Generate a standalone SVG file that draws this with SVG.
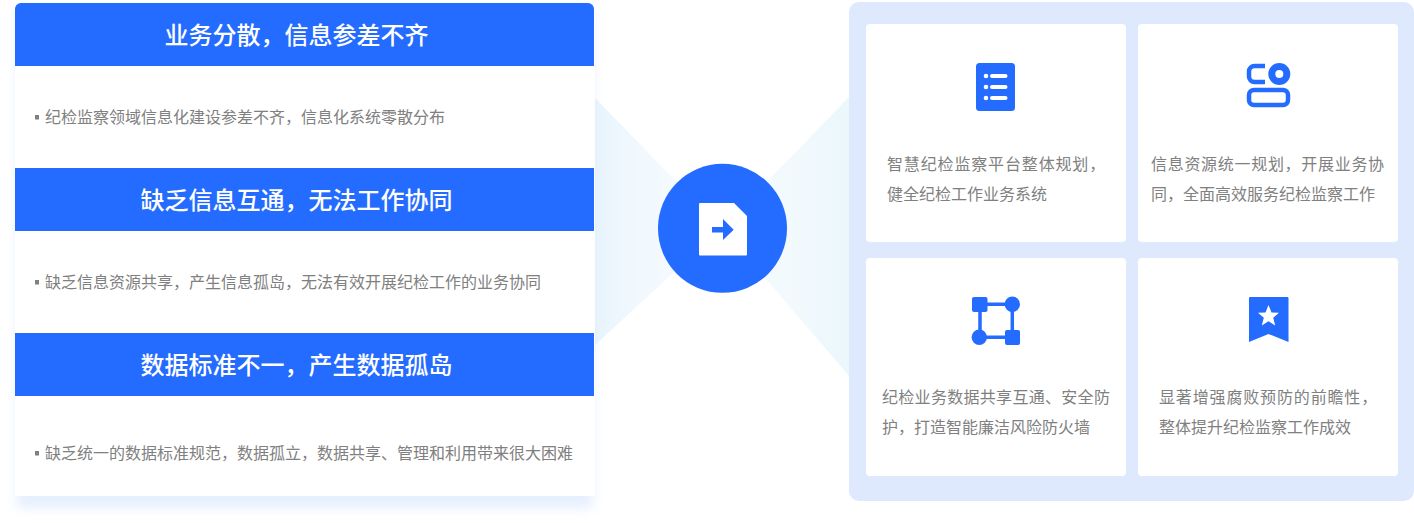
<svg xmlns="http://www.w3.org/2000/svg" width="1414" height="523" viewBox="0 0 1414 523">
<style>
text{font-family:"Noto Sans CJK SC","Noto Sans",sans-serif}
.h{font-size:24px;fill:#fff;text-anchor:middle;font-weight:500}
.b{font-size:16px;fill:#808080}
.c{font-size:16px;fill:#808080}
.head{fill:#246bff}
.card{fill:#fff}
.blue{fill:#246bff}
.line{fill:none;stroke:#246bff}
</style>
<defs>
<filter id="sh" x="-10%" y="-10%" width="120%" height="120%"><feGaussianBlur stdDeviation="6"/></filter>
<linearGradient id="fl" x1="0" x2="1" y1="0" y2="0"><stop offset="0" stop-color="#e8f4fd"/><stop offset=".3" stop-color="#f0f8fe"/><stop offset="1" stop-color="#f9fcff"/></linearGradient>
<linearGradient id="fr" x1="0" x2="1" y1="0" y2="0"><stop offset="0" stop-color="#f1f9fd"/><stop offset=".5" stop-color="#f3fafd"/><stop offset="1" stop-color="#ebf7fc"/></linearGradient>
</defs>
<g id="fans">
<polygon points="595,98 722,228 595,345" fill="url(#fl)"/>
<polygon points="849,97 722,228 849,376" fill="url(#fr)"/>
</g>
<g id="problems">
<rect x="17" y="8" width="576" height="500" fill="#d6e4fd" opacity=".6" filter="url(#sh)"/>
<rect x="15" y="3" width="580" height="493" fill="#fff"/>
<g id="problem-1">
<path class="head" d="M15 66V9a6 6 0 0 1 6-6H588a6 6 0 0 1 6 6V66Z"/>
<text class="h" x="296.500" y="44">业务分散，信息参差不齐</text>
<rect x="35" y="115" width="4" height="4.500" fill="#808080"/>
<text class="b" x="45" y="123">纪检监察领域信息化建设参差不齐，信息化系统零散分布</text>
</g>
<g id="problem-2">
<rect class="head" x="15" y="168" width="579" height="63"/>
<text class="h" x="296.500" y="209">缺乏信息互通，无法工作协同</text>
<rect x="35" y="280" width="4" height="4.500" fill="#808080"/>
<text class="b" x="45" y="288">缺乏信息资源共享，产生信息孤岛，无法有效开展纪检工作的业务协同</text>
</g>
<g id="problem-3">
<rect class="head" x="15" y="333" width="579" height="63"/>
<text class="h" x="296.500" y="374">数据标准不一，产生数据孤岛</text>
<rect x="35" y="451" width="4" height="4.500" fill="#808080"/>
<text class="b" x="45" y="459">缺乏统一的数据标准规范，数据孤立，数据共享、管理和利用带来很大困难</text>
</g>
</g>
<g id="hub">
<circle class="blue" cx="722.500" cy="228.300" r="64.500"/>
<path fill="#fff" d="M700 203H734L747 216V254.500a1 1 0 0 1-1 1H700a1 1 0 0 1-1-1V204a1 1 0 0 1 1-1Z"/>
<path class="blue" d="M712 227H723V219L733.700 229.700L723 240V232.500H712Z"/>
</g>
<g id="solutions">
<rect x="849" y="2" width="565" height="499" rx="10" fill="#dfe9fe"/>
<g id="card-1">
<rect class="card" x="866" y="24" width="260" height="218" rx="4"/>
<rect class="blue" x="976" y="63" width="39" height="48" rx="3.500"/>
<g fill="#fff"><circle cx="986" cy="76" r="2.300"/><circle cx="986" cy="87" r="2.300"/><circle cx="986" cy="98" r="2.300"/>
<rect x="990" y="74" width="17.500" height="4" rx="2"/><rect x="990" y="85" width="17.500" height="4" rx="2"/><rect x="990" y="96" width="17.500" height="4" rx="2"/></g>
<text class="c" x="887" y="170" letter-spacing=".85">智慧纪检监察平台整体规划，</text>
<text class="c" x="887" y="200">健全纪检工作业务系统</text>
</g>
<g id="card-2">
<rect class="card" x="1138" y="24" width="260" height="218" rx="4"/>
<path class="line" stroke-width="4.500" d="M1265 82H1254.500a5.500 5.500 0 0 1-5.500-5.500V71.500a5.500 5.500 0 0 1 5.500-5.500H1265"/>
<path class="blue" fill-rule="evenodd" d="M1268.300 74a11 11 0 1 0 22 0a11 11 0 1 0-22 0ZM1275.300 74a4 4 0 1 1 8 0a4 4 0 1 1-8 0Z"/>
<rect class="line" stroke-width="4.500" x="1249" y="90" width="39" height="15" rx="5"/>
<text class="c" x="1151" y="170" letter-spacing=".7">信息资源统一规划，开展业务协</text>
<text class="c" x="1151" y="200">同，全面高效服务纪检监察工作</text>
</g>
<g id="card-3">
<rect class="card" x="866" y="258" width="260" height="218" rx="4"/>
<path class="line" stroke-width="3.500" d="M980 304.300H1012.300V337.300H980Z"/>
<rect class="blue" x="972" y="297" width="15.500" height="15" rx="2"/>
<circle class="blue" cx="1012.300" cy="304.300" r="7.700"/>
<circle class="blue" cx="979.300" cy="337.300" r="7.700"/>
<rect class="blue" x="1005" y="330" width="15" height="15" rx="2"/>
<text class="c" x="882" y="403" letter-spacing=".3">纪检业务数据共享互通、安全防</text>
<text class="c" x="882" y="433">护，打造智能廉洁风险防火墙</text>
</g>
<g id="card-4">
<rect class="card" x="1138" y="258" width="260" height="218" rx="4"/>
<path class="blue" d="M1250 297H1287.500a1 1 0 0 1 1 1V342L1268.500 334L1249 342V298a1 1 0 0 1 1-1Z"/>
<polygon fill="#fff" points="1268.500,305 1271.500,312.400 1279,312.800 1273.200,317.800 1275.200,325.500 1268.500,321.200 1261.800,325.500 1263.800,317.800 1258,312.800 1265.500,312.400"/>
<text class="c" x="1159" y="403" letter-spacing=".85">显著增强腐败预防的前瞻性，</text>
<text class="c" x="1159" y="433">整体提升纪检监察工作成效</text>
</g>
</g>
</svg>
